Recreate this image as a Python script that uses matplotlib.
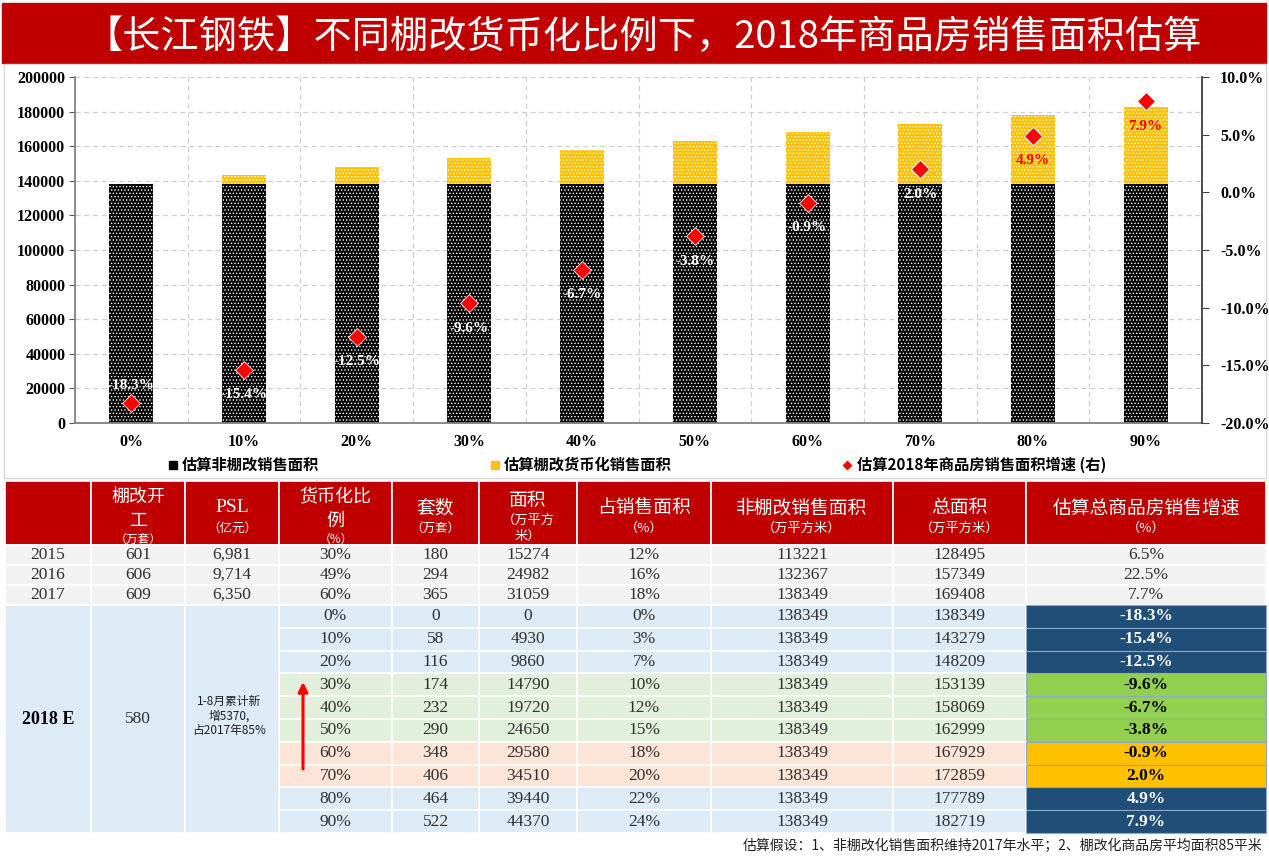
import matplotlib
matplotlib.use('Agg')
import matplotlib.pyplot as plt
from matplotlib.patches import Rectangle
from matplotlib.lines import Line2D
from matplotlib.ticker import MultipleLocator, FuncFormatter
from matplotlib.font_manager import FontProperties
import numpy as np

W, H = 1269, 856
CJK = ['Noto Sans CJK SC', 'DejaVu Sans']
SERIF = ['Liberation Serif', 'Noto Sans CJK SC']

plt.rcParams['font.family'] = CJK
plt.rcParams['hatch.linewidth'] = 0.6

# ---- chart data ----
ratios = ['0%', '10%', '20%', '30%', '40%', '50%', '60%', '70%', '80%', '90%']
non_shed_area = [138349] * 10
shed_area = [0, 4930, 9860, 14790, 19720, 24650, 29580, 34510, 39440, 44370]
growth = [-18.3, -15.4, -12.5, -9.6, -6.7, -3.8, -0.9, 2.0, 4.9, 7.9]

# ---- table data ----
hist_years = ['2015', '2016', '2017']
hist_starts = ['601', '606', '609']
hist_psl = ['6,981', '9,714', '6,350']
hist_ratio = ['30%', '49%', '60%']
hist_sets = ['180', '294', '365']
hist_area = ['15274', '24982', '31059']
hist_share = ['12%', '16%', '18%']
hist_non = ['113221', '132367', '138349']
hist_total = ['128495', '157349', '169408']
hist_growth = ['6.5%', '22.5%', '7.7%']

est_sets = [0, 58, 116, 174, 232, 290, 348, 406, 464, 522]
est_share = ['0%', '3%', '7%', '10%', '12%', '15%', '18%', '20%', '22%', '24%']
est_total = [138349, 143279, 148209, 153139, 158069, 162999, 167929, 172859, 177789, 182719]
est_band = ['b', 'b', 'b', 'g', 'g', 'g', 'o', 'o', 'b', 'b']

headers = [
    [],
    [('棚改开', 497, 13), ('工', 521, 13), ('（万套）', 539, 8.5)],
    [('PSL', 508, 14), ('（亿元）', 528, 9)],
    [('货币化比', 497, 13), ('例', 521, 13), ('（%）', 539, 8.5)],
    [('套数', 508, 13.5), ('（万套）', 528, 9)],
    [('面积', 500, 13.5), ('（万平方', 520, 9.5), ('米）', 536, 9.5)],
    [('占销售面积', 508, 13.5), ('（%）', 528, 9.5)],
    [('非棚改销售面积', 508, 13.5), ('（万平方米）', 528, 9.5)],
    [('总面积', 508, 13.5), ('（万平方米）', 528, 9.5)],
    [('估算总商品房销售增速', 508, 13.5), ('（%）', 528, 9.5)],
]

fig = plt.figure(figsize=(W / 100, H / 100), dpi=100)
bg = fig.add_axes([0, 0, 1, 1])
bg.set_xlim(0, W)
bg.set_ylim(H, 0)
bg.axis('off')

# title banner
bg.add_patch(Rectangle((2, 3), 1264, 60, color='#C00000'))
bg.text(643, 37, '【长江钢铁】不同棚改货币化比例下，2018年商品房销售面积估算',
        color='white', fontsize=27.5, ha='center', va='center', family=CJK)
# chart frame
bg.add_patch(Rectangle((4, 64), 1262, 414, fill=False, edgecolor='#D9D9D9', lw=1))

# ---- chart ----
ax = fig.add_axes([75 / W, 1 - 423 / H, (1202 - 75) / W, (423 - 77) / H])
x = np.arange(len(ratios))
ax.bar(x, non_shed_area, width=0.39, color='black', edgecolor='white', lw=0,
       hatch='.....', zorder=2)
ax.bar(x, shed_area, bottom=non_shed_area, width=0.39, color='#FFC000',
       edgecolor='white', lw=0, hatch='.....', zorder=2)
ax.set_xlim(-0.5, len(ratios) - 0.5)
ax.set_ylim(0, 200000)
ax.yaxis.set_major_locator(MultipleLocator(20000))
ax.set_xticks(x)
ax.set_xticklabels(ratios)
ax.set_xticks(x[:-1] + 0.5, minor=True)
ax.grid(axis='y', ls=(0, (4, 3)), color='#D0D0D0', lw=0.9, zorder=0)
ax.grid(axis='x', which='minor', ls=(0, (4, 3)), color='#D0D0D0', lw=0.9, zorder=0)
ax.tick_params(axis='x', which='both', length=0, pad=8)
ax.tick_params(axis='y', length=4, color='#595959', pad=3)
for s in ['top', 'right']:
    ax.spines[s].set_visible(False)
for s in ['left', 'bottom']:
    ax.spines[s].set_color('#808080')
    ax.spines[s].set_linewidth(1.3)
for lab in ax.get_xticklabels() + ax.get_yticklabels():
    lab.set_family(SERIF)
    lab.set_fontweight('bold')
    lab.set_fontsize(11.5)

ax2 = ax.twinx()
ax2.set_ylim(-20, 10)
ax2.yaxis.set_major_locator(MultipleLocator(5))
ax2.yaxis.set_major_formatter(FuncFormatter(lambda v, p: f'{v:.1f}%'))
ax2.plot(x, growth, ls='none', marker='D', ms=9, color='#FF0000', mec='white',
         mew=0.6, zorder=5)
for s in ['top', 'left', 'bottom']:
    ax2.spines[s].set_visible(False)
ax2.spines['right'].set_color('#404040')
ax2.spines['right'].set_linewidth(1.3)
ax2.tick_params(axis='y', length=5, color='#404040', pad=8)
for lab in ax2.get_yticklabels():
    lab.set_family(SERIF)
    lab.set_fontweight('bold')
    lab.set_fontsize(11.5)

for i, g in enumerate(growth):
    col = 'white' if i < 8 else '#FF0000'
    dy = 13 if i == 0 else -18
    ax2.annotate(f'{g:.1f}%', (x[i], g), xytext=(0, dy), textcoords='offset points',
                 ha='center', va='center', color=col, fontsize=11,
                 fontweight='bold', family=SERIF, zorder=6)

handles = [
    Line2D([], [], marker='s', ls='none', color='black', ms=6),
    Line2D([], [], marker='s', ls='none', color='#FFC000', ms=6),
    Line2D([], [], marker='D', ls='none', color='#FF0000', ms=4.5),
]
fig.legend(handles, ['估算非棚改销售面积', '估算棚改货币化销售面积', '估算2018年商品房销售面积增速 (右)'],
           loc='center', bbox_to_anchor=(637 / W, 1 - 465 / H), ncol=3, frameon=False,
           prop=FontProperties(family=CJK, weight='bold', size=11),
           handlelength=0.6, handletextpad=0.3, columnspacing=11.2)

# ---- table ----
cols = [5, 91, 185, 279, 392, 479, 577, 711, 893, 1026, 1266]
centers = [(cols[i] + cols[i + 1]) / 2 for i in range(len(cols) - 1)]
head_top, head_bot = 481, 545
hist_h = 20
est_top = head_bot + 3 * hist_h
est_h = 22.8

band_fill = {'b': '#DDEBF7', 'g': '#E2EFDA', 'o': '#FCE4D6'}
growth_fill = {'b': '#1F4E78', 'g': '#92D050', 'o': '#FFC000'}
growth_text = {'b': 'white', 'g': 'black', 'o': 'black'}
num_kw = dict(family=SERIF, fontsize=12.5, color='#303030', ha='center', va='center')

# header
for i in range(len(cols) - 1):
    bg.add_patch(Rectangle((cols[i], head_top), cols[i + 1] - cols[i], head_bot - head_top,
                           facecolor='#C00000', edgecolor='white', lw=1.2))
    for txt, yy, fs in headers[i]:
        fam = SERIF if txt == 'PSL' else CJK
        bg.text(centers[i], yy, txt, color='white', fontsize=fs, ha='center',
                va='center', family=fam)

# historical rows
hist_cols = [hist_years, hist_starts, hist_psl, hist_ratio, hist_sets, hist_area,
             hist_share, hist_non, hist_total, hist_growth]
for r in range(len(hist_years)):
    y0 = head_bot + r * hist_h
    for c in range(len(cols) - 1):
        bg.add_patch(Rectangle((cols[c], y0), cols[c + 1] - cols[c], hist_h,
                               facecolor='#F2F2F2', edgecolor='white', lw=1.2))
        bg.text(centers[c], y0 + hist_h / 2, hist_cols[c][r], **num_kw)

# 2018 merged cells
est_bot = est_top + est_h * len(ratios)
for c in range(3):
    bg.add_patch(Rectangle((cols[c], est_top), cols[c + 1] - cols[c], est_bot - est_top,
                           facecolor='#DDEBF7', edgecolor='white', lw=1.2))
mid = (est_top + est_bot) / 2
bg.text(centers[0], mid, '2018 E', family=SERIF, fontsize=13, fontweight='bold',
        color='black', ha='center', va='center')
bg.text(centers[1], mid, '580', **num_kw)
bg.text(centers[2] - 3, mid - 3, '1-8月累计新\n增5370,\n占2017年85%', family=CJK,
        fontsize=8.5, style='italic', color='#202020', ha='center', va='center',
        linespacing=1.15)
bg.annotate('', xy=(303, 682), xytext=(303, 769),
            arrowprops=dict(arrowstyle='-|>', color='#FF0000', lw=2.2,
                            mutation_scale=14, shrinkA=0, shrinkB=0))

for r in range(len(ratios)):
    y0 = est_top + r * est_h
    band = est_band[r]
    vals = [ratios[r], str(est_sets[r]), str(shed_area[r]), est_share[r],
            str(non_shed_area[r]), str(est_total[r])]
    for k, c in enumerate(range(3, 9)):
        bg.add_patch(Rectangle((cols[c], y0), cols[c + 1] - cols[c], est_h,
                               facecolor=band_fill[band], edgecolor='white', lw=1.2))
        bg.text(centers[c], y0 + est_h / 2, vals[k], **num_kw)
    bg.add_patch(Rectangle((cols[9], y0), cols[10] - cols[9], est_h,
                           facecolor=growth_fill[band], edgecolor='#8EA9C1', lw=0.8))
    bg.text(centers[9], y0 + est_h / 2, f'{growth[r]:.1f}%', family=SERIF, fontsize=12.5,
            fontweight='bold', color=growth_text[band], ha='center', va='center')

bg.text(1262, 846, '估算假设：1、非棚改化销售面积维持2017年水平；2、棚改化商品房平均面积85平米',
        family=CJK, fontsize=10, style='italic', color='#202020', ha='right', va='center')

fig.savefig('out.png', dpi=100)
